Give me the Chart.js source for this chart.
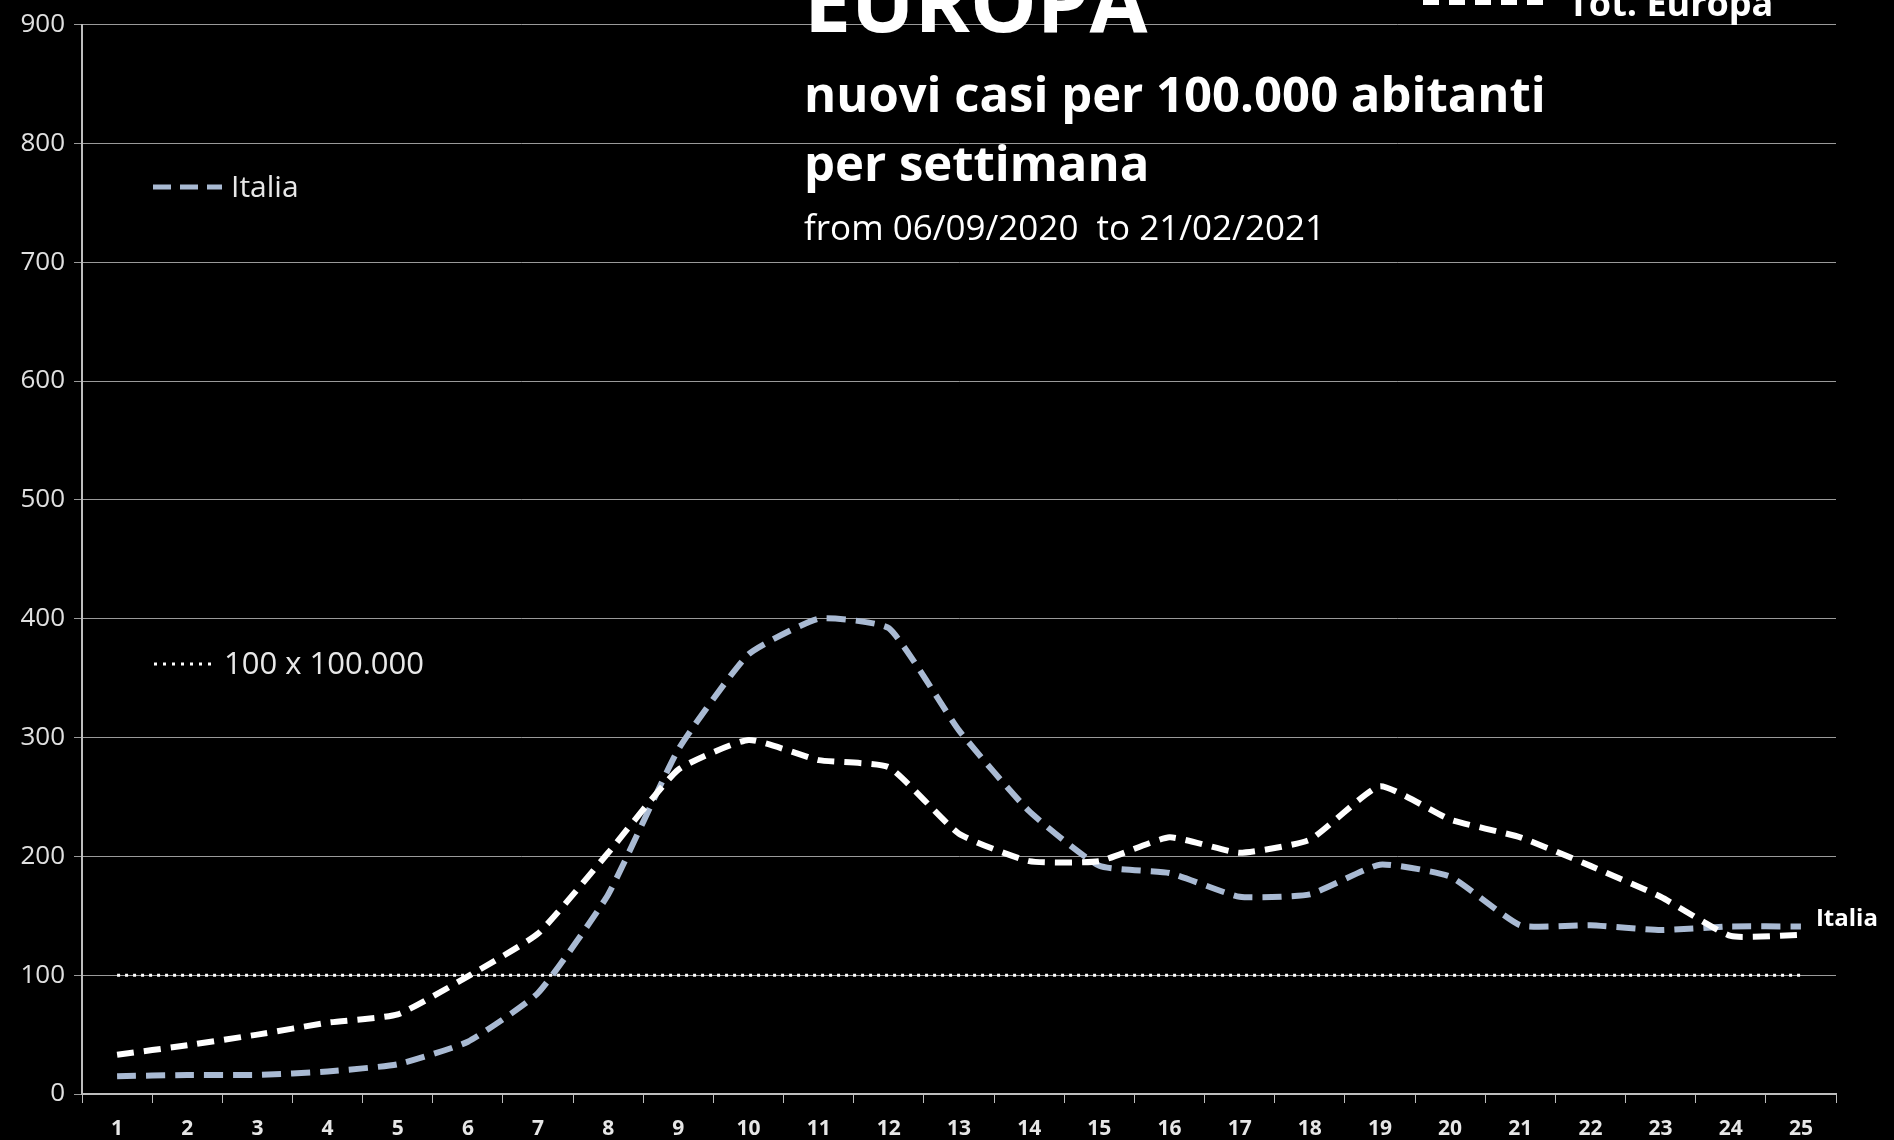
<!DOCTYPE html>
<html>
<head>
<meta charset="utf-8">
<script src="https://cdn.jsdelivr.net/npm/chart.js@4"></script>
<style>
  html, body { margin: 0; padding: 0; background: #000; }
  #wrap { width: 1894px; height: 1140px; }
</style>
</head>
<body>
<div id="wrap"><canvas id="chart"></canvas></div>
<script>
// weeks 1..25 (06/09/2020 -> 21/02/2021)
const weeks = ["1","2","3","4","5","6","7","8","9","10","11","12","13","14","15","16","17","18","19","20","21","22","23","24","25"];
const italia = [15, 16, 16, 19, 25, 44, 85, 168, 290, 370, 400, 392, 306, 238, 192, 186, 166, 168, 193, 183, 142, 142, 138, 141, 141];
const totEuropa = [33, 41, 50, 60, 67, 99, 135, 203, 273, 298, 281, 275, 219, 196, 196, 216, 203, 214, 259, 231, 216, 192, 166, 133, 134];
const soglia = [100, 100, 100, 100, 100, 100, 100, 100, 100, 100, 100, 100, 100, 100, 100, 100, 100, 100, 100, 100, 100, 100, 100, 100, 100];
const yTicks = [0, 100, 200, 300, 400, 500, 600, 700, 800, 900];

const ITALIA_COLOR = "#a9bad3";
const FONT = "'Open Sans', 'DejaVu Sans', sans-serif";

// ================= TEXTS AND LEGENDS =================
const annotations = {
    id: "annotations",
    afterDraw(chart) {
        const ctx = chart.ctx;
        const x = chart.scales.x;
        const y = chart.scales.y;
        ctx.save();
        ctx.fillStyle = "#ffffff";
        ctx.textBaseline = "alphabetic";
        ctx.textAlign = "left";

        ctx.font = "bold 84px " + FONT;
        ctx.fillText("EUROPA", 804, 32);
        ctx.font = "bold 49px " + FONT;
        ctx.fillText("nuovi casi per 100.000 abitanti", 804, 112);
        ctx.fillText("per settimana", 804, 181);
        ctx.font = "35px " + FONT;
        ctx.fillText("from 06/09/2020  to 21/02/2021", 804, 240);

        // Tot. Europa legend (top right)
        ctx.strokeStyle = "#ffffff";
        ctx.lineWidth = 6;
        ctx.setLineDash([16, 10]);
        ctx.beginPath();
        ctx.moveTo(1423, 2);
        ctx.lineTo(1548, 2);
        ctx.stroke();
        ctx.font = "bold 36px " + FONT;
        ctx.fillText("Tot. Europa", 1568, 16);

        // Italia legend
        ctx.strokeStyle = ITALIA_COLOR;
        ctx.lineWidth = 5;
        ctx.setLineDash([18, 9]);
        ctx.beginPath();
        ctx.moveTo(153, 187);
        ctx.lineTo(222, 187);
        ctx.stroke();
        ctx.textBaseline = "middle";
        ctx.fillStyle = "#e8e8e8";
        ctx.font = "30px " + FONT;
        ctx.fillText("Italia", 231, 188);

        // threshold legend
        ctx.strokeStyle = "#ffffff";
        ctx.lineWidth = 3;
        ctx.setLineDash([3, 6]);
        ctx.beginPath();
        ctx.moveTo(154, 664);
        ctx.lineTo(216, 664);
        ctx.stroke();
        ctx.font = "31px " + FONT;
        ctx.fillText("100 x 100.000", 224, 665);

        // end label
        ctx.fillStyle = "#ffffff";
        ctx.font = "bold 24px " + FONT;
        ctx.fillText("Italia", x.getPixelForValue(24) + 15, y.getPixelForValue(italia[24]) - 7);
        ctx.restore();
    }
};

const chart = new Chart(document.getElementById("chart"), {
    type: "line",

    data: {
        labels: weeks,

        datasets: [
            {
                label: "100 x 100.000",
                data: soglia,
                borderColor: "#ffffff",
                borderWidth: 3,
                borderDash: [3, 5],
                pointRadius: 0,
                tension: 0
            },
            {
                label: "Tot. Europa",
                data: totEuropa,
                borderColor: "#ffffff",
                borderWidth: 6,
                borderDash: [17, 10],
                pointRadius: 0,
                tension: 0.15
            },
            {
                label: "Italia",
                data: italia,
                borderColor: ITALIA_COLOR,
                borderWidth: 6,
                borderDash: [19, 10],
                pointRadius: 0,
                tension: 0.15
            }
        ]
    },

    options: {
        responsive: true,
        maintainAspectRatio: false,
        animation: false,
        layout: {
            padding: { top: 20, right: 58, left: 0, bottom: 0 }
        },

        plugins: {
            legend: { display: false },
            tooltip: { enabled: false }
        },

        scales: {
            x: {
                offset: true,
                afterFit(scale) { scale.height = 46; },
                ticks: {
                    color: "#e6e6e6",
                    font: { family: FONT, size: 21, weight: "bold" },
                    padding: 13,
                    maxRotation: 0,
                    autoSkip: false
                },
                grid: {
                    offset: true,
                    drawOnChartArea: false,
                    drawTicks: true,
                    tickLength: 9,
                    color: "#bdbdbd",
                    lineWidth: 1
                },
                border: { color: "#bdbdbd", width: 2 }
            },

            y: {
                min: 0,
                max: 900,
                afterFit(scale) { scale.width = 82; },
                afterBuildTicks(scale) {
                    scale.ticks = yTicks.map(v => ({ value: v }));
                },
                ticks: {
                    color: "#e0e0e0",
                    font: { family: FONT, size: 26 },
                    padding: 9
                },
                grid: {
                    color: "#9a9a9a",
                    lineWidth: 1,
                    tickLength: 8
                },
                border: { color: "#bdbdbd", width: 2 }
            }
        }
    },

    plugins: [annotations]
});
</script>
</body>
</html>
